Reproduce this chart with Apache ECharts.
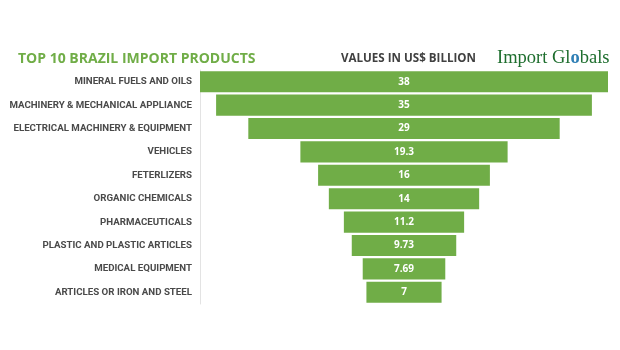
<!DOCTYPE html>
<html><head><meta charset="utf-8">
<script src="https://cdn.jsdelivr.net/npm/echarts@6/dist/echarts.min.js"></script>
<style>html,body{margin:0;padding:0;background:#fff}#c{width:620px;height:350px}</style>
</head><body><div id="c"></div>
<script>
const categories = ["MINERAL FUELS AND OILS","MACHINERY & MECHANICAL APPLIANCE","ELECTRICAL MACHINERY & EQUIPMENT","VEHICLES","FETERLIZERS","ORGANIC CHEMICALS","PHARMACEUTICALS","PLASTIC AND PLASTIC ARTICLES","MEDICAL EQUIPMENT","ARTICLES OR IRON AND STEEL"];
const values = [38, 35, 29, 19.3, 16, 14, 11.2, 9.73, 7.69, 7];
const titleText = "TOP 10 BRAZIL IMPORT PRODUCTS";
const unitText = "VALUES IN US$ BILLION";
const maxV = Math.max(...values);
const offsets = values.map(v => (maxV - v) / 2);
const chart = echarts.init(document.getElementById('c'), null, {renderer:'canvas'});
chart.setOption({
  animation:false,
  backgroundColor:'#fff',
  title:[
    {text:titleText,left:13,top:47,textStyle:{fontFamily:'Open Sans',fontWeight:'bold',fontSize:14,color:'#70ad47'}},
    {text:unitText,left:336,top:48,textStyle:{fontFamily:'Open Sans',fontWeight:'bold',fontSize:11.6,color:'#404040'}},
    {text:'{a|Import Gl}{b|o}{a|bals}',left:492,top:44,textStyle:{rich:{
      a:{fontFamily:'Liberation Serif',fontWeight:'normal',fontSize:18.5,color:'#1e6e2e'},
      b:{fontFamily:'Liberation Serif',fontWeight:'bold',fontSize:18.5,color:'#2f7fb5'}}}}
  ],
  grid:{left:200,width:408,top:70,height:234,outerBoundsMode:'none',containLabel:false},
  xAxis:{type:'value',min:0,max:maxV,show:false},
  yAxis:{type:'category',data:categories,inverse:true,
    axisLine:{show:true,lineStyle:{color:'#e3e3e3',width:1}},
    axisTick:{show:false},
    axisLabel:{margin:8,fontFamily:'Roboto',fontWeight:'bold',fontSize:9.7,color:'#4a4a4a',padding:[3,0,0,0]}},
  series:[
    {type:'bar',stack:'s',data:offsets,itemStyle:{color:'transparent'},barCategoryGap:'10%',silent:true},
    {type:'bar',stack:'s',data:values,barCategoryGap:'10%',
     itemStyle:{color:'#70ad47'},
     label:{show:true,position:'inside',color:'#fff',fontFamily:'Open Sans',fontWeight:'bold',fontSize:10}}
  ]
});
</script></body></html>
